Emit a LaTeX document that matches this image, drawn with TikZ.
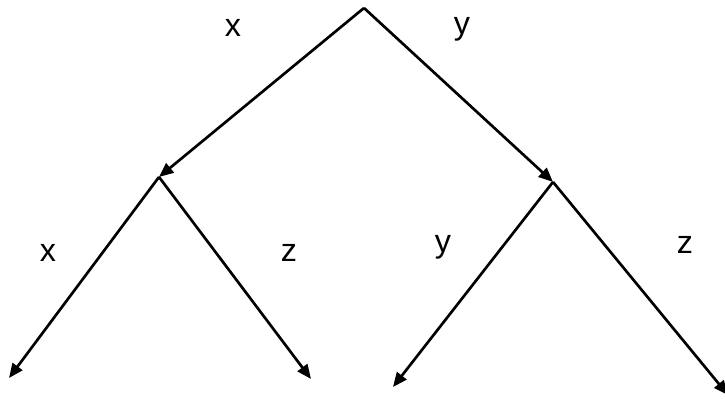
\documentclass[tikz,border=0pt]{standalone}
\usepackage{fontspec}
\setmainfont{Liberation Sans}
\usetikzlibrary{arrows.meta}
\tikzset{every picture/.style={line width=1.9pt}}
\tikzset{branch/.style={-{Triangle[length=3.6mm,width=3mm]}},
         lbl/.style={font=\fontsize{23}{25}\selectfont}}

\begin{document}
\begin{tikzpicture}
    \useasboundingbox (0,0) rectangle (18.125,10.025);
    % Tree points
    \coordinate (root) at (9.1,9.825);
    \coordinate (left) at (3.975,5.6);
    \coordinate (right) at (13.825,5.475);
    \coordinate (leftx) at (0.225,0.575);
    \coordinate (leftz) at (7.775,0.55);
    \coordinate (righty) at (9.825,0.35);
    \coordinate (rightz) at (18.2,0.15);
    
    % Branches
    \draw[branch] (root) -- (left);
    \draw[branch] (root) -- (right);
    \draw[branch] (left) -- (leftx);
    \draw[branch] (left) -- (leftz);
    \draw[branch] (right) -- (righty);
    \draw[branch] (right) -- (rightz);
    
    % Labels
    \node[lbl] (lx) at (5.825,9.325) {x};
    \node[lbl] (ly) at (11.55,9.3) {y};
    \node[lbl] (llx) at (1.2,3.7) {x};
    \node[lbl] (llz) at (7.225,3.7) {z};
    \node[lbl] (rry) at (11.075,3.85) {y};
    \node[lbl] (rrz) at (17.125,3.9) {z};
\end{tikzpicture}
\end{document}
